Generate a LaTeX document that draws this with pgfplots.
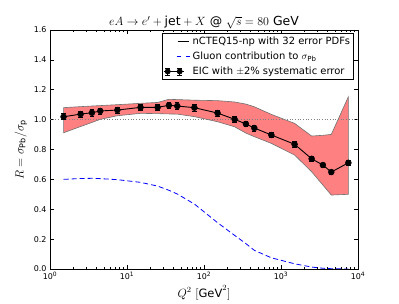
\documentclass[border=0pt]{standalone}
\usepackage{fontspec}
\setmainfont{DejaVu Sans}
\usepackage{pgfplots}
\pgfplotsset{compat=1.18}
\definecolor{bandfill}{HTML}{FF8080}
\definecolor{bandedge}{HTML}{707070}
\begin{document}
\begin{tikzpicture}
\begin{axis}[
  scale only axis, width=308bp, height=239bp,
  xmode=log, xmin=1, xmax=1e4, ymin=0, ymax=1.6,
  ytick={0,0.2,0.4,0.6,0.8,1.0,1.2,1.4,1.6},
  yticklabel style={/pgf/number format/.cd, fixed, fixed zerofill, precision=1, assume math mode=true},
  xtick={1,10,100,1000,10000},
  xticklabels={10\textsuperscript{0},10\textsuperscript{1},10\textsuperscript{2},10\textsuperscript{3},10\textsuperscript{4}},
  tick label style={font=\fontsize{8}{9}\selectfont},
  tick align=inside, major tick length=4bp, minor tick length=2bp,
  tick style={black, line width=0.6bp},
  axis line style={black, line width=0.9bp},
  title={$eA\rightarrow e'+\mathrm{jet}+X\ \mathrm{@}\ \sqrt{s}=80\ \mathrm{GeV}$},
  title style={font=\fontsize{12.5}{14}\selectfont, yshift=-8bp},
  xlabel={$Q^2\ [\mathrm{GeV}^2]$},
  ylabel={$R=\sigma_{\mathrm{Pb}}/\sigma_{\mathrm{p}}$},
  label style={font=\fontsize{11.5}{13}\selectfont},
  xlabel style={yshift=1bp},
  legend style={at={(1,1)}, anchor=north east, xshift=-4bp, yshift=-3bp,
    draw=black, line width=0.6bp, font=\fontsize{10}{12}\selectfont,
    inner xsep=1bp, inner ysep=2.5bp, row sep=4bp,
    nodes={inner xsep=2.5bp, inner ysep=1bp}},
  legend cell align=left,
]
\coordinate (sw) at (rel axis cs:0,0);
% band
\addplot[fill=bandfill, draw=bandedge, line width=0.6bp, forget plot] coordinates {
(1.5,1.080) (2.5,1.087) (3.5,1.091) (4.5,1.094) (7.5,1.100) (15,1.109) (25,1.115) (35,1.136) (45,1.134) (75,1.130) (150,1.127) (250,1.118) (350,1.104) (450,1.086) (750,1.035) (1500,0.975) (2500,0.890) (3500,0.895) (4500,0.901) (7500,1.153)
(7500,0.500) (4500,0.495) (3500,0.562) (2500,0.651) (1500,0.763) (750,0.841) (450,0.886) (350,0.910) (250,0.952) (150,0.986) (75,1.020) (45,1.037) (35,1.038) (25,1.040) (15,1.042) (7.5,1.026) (4.5,1.002) (3.5,0.981) (2.5,0.954) (1.5,0.912)
} -- cycle;
% unity line
\addplot[gray, dotted, line width=0.7bp, forget plot] coordinates {(1,1) (10000,1)};
% central line
\addplot[black, line width=0.9bp, forget plot] coordinates {
(1.5,1.019) (2.5,1.037) (3.5,1.046) (4.5,1.058) (7.5,1.064) (15,1.082) (25,1.082) (35,1.096) (45,1.091) (75,1.080) (150,1.044) (250,1.002) (350,0.971) (450,0.944) (750,0.897) (1500,0.835) (2500,0.738) (3500,0.696) (4500,0.649) (7500,0.711)};
% gluon
\addplot[blue, line width=0.8bp, dash pattern=on 5bp off 3bp, forget plot] coordinates {
(1.5,0.600) (2.5,0.606) (3.5,0.607) (4.5,0.605) (7.5,0.598) (15,0.580) (25,0.555) (35,0.527) (45,0.502) (75,0.435) (150,0.310) (250,0.225) (350,0.170) (450,0.125) (750,0.075) (1500,0.035) (2500,0.013) (3500,0.005) (4500,0.002) (7500,0.000)};
% EIC points
\addplot[only marks, black, mark=*, mark size=3bp, forget plot,
  error bars/.cd, y dir=both, y explicit, error mark options={rotate=90, mark size=2.2bp, line width=0.6bp},
  error bar style={line width=0.6bp}] 
  coordinates {
(1.5,1.019) +- (0,0.020) (2.5,1.037) +- (0,0.021) (3.5,1.046) +- (0,0.021) (4.5,1.058) +- (0,0.021) (7.5,1.064) +- (0,0.021) (15,1.082) +- (0,0.022) (25,1.082) +- (0,0.022) (35,1.096) +- (0,0.022) (45,1.091) +- (0,0.022) (75,1.080) +- (0,0.022) (150,1.044) +- (0,0.021) (250,1.002) +- (0,0.020) (350,0.971) +- (0,0.019) (450,0.944) +- (0,0.019) (750,0.897) +- (0,0.018) (1500,0.835) +- (0,0.017) (2500,0.738) +- (0,0.015) (3500,0.696) +- (0,0.014) (4500,0.649) +- (0,0.013) (7500,0.711) +- (0,0.014)};
\addlegendimage{legend image code/.code={
  \path[draw=none] (-14bp,0bp) -- (11bp,0bp);
  \draw[black, line width=0.9bp] (0bp,0bp) -- (11bp,0bp);}}
\addlegendentry{nCTEQ15-np with 32 error PDFs}
\addlegendimage{legend image code/.code={
  \path[draw=none] (-14bp,0bp) -- (11bp,0bp);
  \draw[blue, line width=0.8bp, dash pattern=on 4bp off 5bp] (-1bp,0bp) -- (12bp,0bp);}}
\addlegendentry{Gluon contribution to $\sigma_{\mathrm{Pb}}$}
\addlegendimage{legend image code/.code={
  \path[draw=none] (-14bp,0bp) -- (11bp,0bp);
  \draw[black, line width=0.6bp] (-10bp,0bp) -- (2bp,0bp);
  \foreach \xx in {-10bp,2bp}{
    \draw[black, line width=0.6bp] (\xx,-3.5bp) -- (\xx,3.5bp);
    \draw[black, line width=0.6bp] (\xx-2.2bp,-3.5bp) -- (\xx+2.2bp,-3.5bp);
    \draw[black, line width=0.6bp] (\xx-2.2bp,3.5bp) -- (\xx+2.2bp,3.5bp);
    \draw[black, line width=0.6bp] (\xx-4bp,0bp) -- (\xx+4bp,0bp);
    \fill[black] (\xx,0bp) circle (2.6bp);}
}}
\addlegendentry{EIC with $\pm$2\% systematic error}
\end{axis}
\path (sw) ++(-50bp,-30bp) rectangle ++(399bp,299bp);
\end{tikzpicture}
\end{document}
